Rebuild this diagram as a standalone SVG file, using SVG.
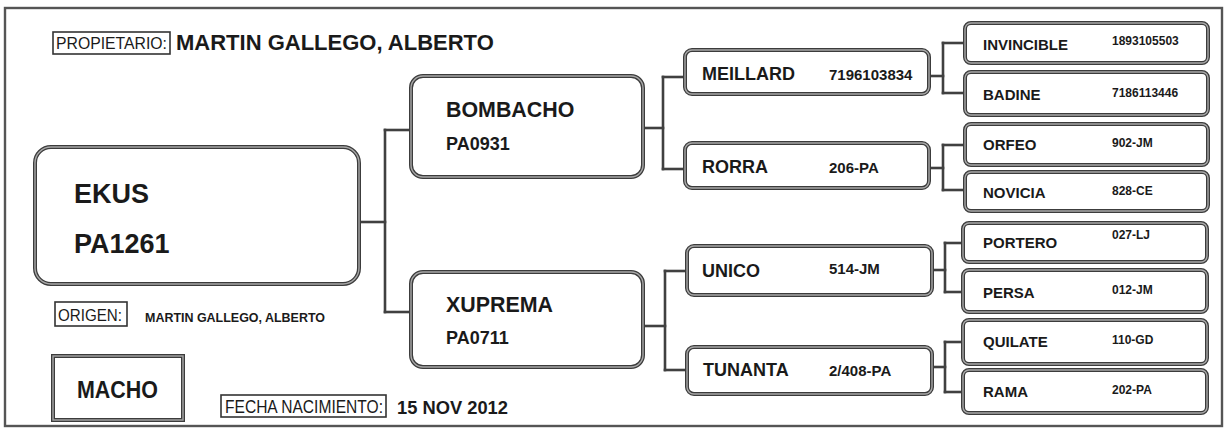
<svg xmlns="http://www.w3.org/2000/svg" width="1229" height="430" viewBox="0 0 1229 430">
<style>
text{font-family:"Liberation Sans",Arial,Helvetica,sans-serif;fill:#1a1a1a}
.b{font-weight:bold}
.r{font-weight:normal}
.o{fill:none;stroke:#3c3c3c;stroke-width:4}
.i{fill:none;stroke:#a8a8a8;stroke-width:1.4}
.lbl{fill:#fff;stroke:#333;stroke-width:1.6}
.conn line{stroke:#404040;stroke-width:2.6;stroke-linecap:square}
.n2{font-size:18px}
.c2{font-size:15px}
.n3{font-size:15px}
.c3{font-size:12px}
</style>
<rect x="0" y="0" width="1229" height="430" fill="#fff"/>
<rect x="5" y="8" width="1217" height="418" fill="none" stroke="#555" stroke-width="2.4"/>

<g id="header">
<rect class="lbl" x="53" y="32" width="117" height="22"/>
<text class="r" x="56" y="49" font-size="17" textLength="111" lengthAdjust="spacingAndGlyphs">PROPIETARIO:</text>
<text class="b" x="176" y="50" font-size="22">MARTIN GALLEGO, ALBERTO</text>
</g>

<g id="origen">
<rect class="lbl" x="55" y="302" width="72" height="24"/>
<text class="r" x="58" y="321" font-size="17" textLength="64" lengthAdjust="spacingAndGlyphs">ORIGEN:</text>
<text class="b" x="145" y="322" font-size="13" textLength="180" lengthAdjust="spacingAndGlyphs">MARTIN GALLEGO, ALBERTO</text>
</g>

<g id="sexo">
<rect x="53" y="356" width="130" height="64" class="o"/>
<rect x="53" y="356" width="130" height="64" class="i"/>
<text class="b" x="77" y="398" font-size="24" textLength="81" lengthAdjust="spacingAndGlyphs">MACHO</text>
</g>

<g id="fecha">
<rect class="lbl" x="221" y="395" width="165" height="22"/>
<text class="r" x="225" y="413" font-size="18" textLength="158" lengthAdjust="spacingAndGlyphs">FECHA NACIMIENTO:</text>
<text class="b" x="397" y="414" font-size="19" textLength="111" lengthAdjust="spacingAndGlyphs">15 NOV 2012</text>
</g>

<g class="conn" id="connectors">
<line x1="359" y1="222" x2="385" y2="222"/>
<line x1="385" y1="130" x2="385" y2="312"/>
<line x1="385" y1="130" x2="411" y2="130"/>
<line x1="385" y1="312" x2="411" y2="312"/>
<line x1="643" y1="128" x2="663" y2="128"/>
<line x1="663" y1="77" x2="663" y2="169"/>
<line x1="663" y1="77" x2="685" y2="77"/>
<line x1="663" y1="169" x2="685" y2="169"/>
<line x1="643" y1="326" x2="665" y2="326"/>
<line x1="665" y1="271" x2="665" y2="370"/>
<line x1="665" y1="271" x2="687" y2="271"/>
<line x1="665" y1="370" x2="687" y2="370"/>
<line x1="929" y1="76" x2="943" y2="76"/>
<line x1="943" y1="43" x2="943" y2="93"/>
<line x1="943" y1="43" x2="965" y2="43"/>
<line x1="943" y1="93" x2="965" y2="93"/>
<line x1="929" y1="168" x2="943" y2="168"/>
<line x1="943" y1="145" x2="943" y2="190"/>
<line x1="943" y1="145" x2="965" y2="145"/>
<line x1="943" y1="190" x2="965" y2="190"/>
<line x1="932" y1="270" x2="945" y2="270"/>
<line x1="945" y1="243" x2="945" y2="292"/>
<line x1="945" y1="243" x2="963" y2="243"/>
<line x1="945" y1="292" x2="963" y2="292"/>
<line x1="932" y1="367" x2="945" y2="367"/>
<line x1="945" y1="342" x2="945" y2="392"/>
<line x1="945" y1="342" x2="963" y2="342"/>
<line x1="945" y1="392" x2="963" y2="392"/>
</g>

<g id="ekus">
<rect class="o" x="35" y="147" width="324" height="137" rx="16"/>
<rect class="i" x="35" y="147" width="324" height="137" rx="16"/>
<text class="b" x="74" y="203" font-size="27">EKUS</text>
<text class="b" x="74" y="253" font-size="27">PA1261</text>
</g>

<g id="bombacho">
<rect class="o" x="411" y="76" width="232" height="101" rx="12"/>
<rect class="i" x="411" y="76" width="232" height="101" rx="12"/>
<text class="b" x="446" y="117" font-size="21.4">BOMBACHO</text>
<text class="b" x="446" y="150" font-size="18">PA0931</text>
</g>

<g id="xuprema">
<rect class="o" x="411" y="272" width="232" height="95" rx="12"/>
<rect class="i" x="411" y="272" width="232" height="95" rx="12"/>
<text class="b" x="446" y="312" font-size="21.4">XUPREMA</text>
<text class="b" x="446" y="344" font-size="18">PA0711</text>
</g>

<g id="meillard">
<rect class="o" x="685" y="50" width="244" height="44" rx="7"/>
<rect class="i" x="685" y="50" width="244" height="44" rx="7"/>
<text class="b n2" x="702" y="80">MEILLARD</text>
<text class="b c2" x="829" y="80">7196103834</text>
</g>

<g id="rorra">
<rect class="o" x="685" y="143" width="244" height="45" rx="7"/>
<rect class="i" x="685" y="143" width="244" height="45" rx="7"/>
<text class="b n2" x="702" y="173">RORRA</text>
<text class="b c2" x="829" y="173">206-PA</text>
</g>

<g id="unico">
<rect class="o" x="687" y="246" width="245" height="49" rx="7"/>
<rect class="i" x="687" y="246" width="245" height="49" rx="7"/>
<text class="b n2" x="702" y="277">UNICO</text>
<text class="b c2" x="829" y="274">514-JM</text>
</g>

<g id="tunanta">
<rect class="o" x="687" y="347" width="245" height="47" rx="7"/>
<rect class="i" x="687" y="347" width="245" height="47" rx="7"/>
<text class="b n2" x="703" y="376">TUNANTA</text>
<text class="b c2" x="829" y="376">2/408-PA</text>
</g>

<g id="invincible">
<rect class="o" x="965" y="23" width="243" height="40" rx="6"/>
<rect class="i" x="965" y="23" width="243" height="40" rx="6"/>
<text class="b n3" x="983" y="50">INVINCIBLE</text>
<text class="b c3" x="1112" y="45">1893105503</text>
</g>

<g id="badine">
<rect class="o" x="965" y="72" width="243" height="43" rx="6"/>
<rect class="i" x="965" y="72" width="243" height="43" rx="6"/>
<text class="b n3" x="983" y="100">BADINE</text>
<text class="b c3" x="1112" y="97">7186113446</text>
</g>

<g id="orfeo">
<rect class="o" x="965" y="124" width="243" height="41" rx="6"/>
<rect class="i" x="965" y="124" width="243" height="41" rx="6"/>
<text class="b n3" x="983" y="150">ORFEO</text>
<text class="b c3" x="1112" y="147">902-JM</text>
</g>

<g id="novicia">
<rect class="o" x="965" y="172" width="243" height="39" rx="6"/>
<rect class="i" x="965" y="172" width="243" height="39" rx="6"/>
<text class="b n3" x="983" y="198">NOVICIA</text>
<text class="b c3" x="1112" y="195">828-CE</text>
</g>

<g id="portero">
<rect class="o" x="963" y="223" width="244" height="39" rx="6"/>
<rect class="i" x="963" y="223" width="244" height="39" rx="6"/>
<text class="b n3" x="983" y="248">PORTERO</text>
<text class="b c3" x="1112" y="239">027-LJ</text>
</g>

<g id="persa">
<rect class="o" x="963" y="270" width="244" height="42" rx="6"/>
<rect class="i" x="963" y="270" width="244" height="42" rx="6"/>
<text class="b n3" x="983" y="298">PERSA</text>
<text class="b c3" x="1112" y="294">012-JM</text>
</g>

<g id="quilate">
<rect class="o" x="963" y="320" width="244" height="44" rx="6"/>
<rect class="i" x="963" y="320" width="244" height="44" rx="6"/>
<text class="b n3" x="983" y="347">QUILATE</text>
<text class="b c3" x="1112" y="344">110-GD</text>
</g>

<g id="rama">
<rect class="o" x="963" y="370" width="244" height="43" rx="6"/>
<rect class="i" x="963" y="370" width="244" height="43" rx="6"/>
<text class="b n3" x="983" y="397">RAMA</text>
<text class="b c3" x="1112" y="394">202-PA</text>
</g>
</svg>
